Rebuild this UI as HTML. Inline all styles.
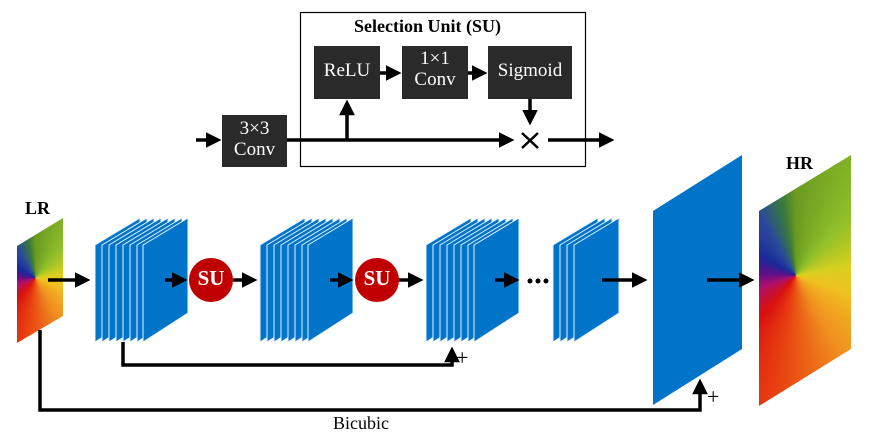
<!DOCTYPE html>
<html><head><style>
body{margin:0;width:896px;height:434px;background:#fff;position:relative;overflow:hidden;font-family:"Liberation Serif",serif}
.img{position:absolute;background:conic-gradient(from 0deg at 40% 48%,#6a9a20 0deg,#8fbf2a 40deg,#d8d020 80deg,#f0c020 110deg,#f09020 150deg,#e84010 190deg,#d81010 220deg,#b0106a 250deg,#5a108a 275deg,#1a2a9a 300deg,#2a4a9a 330deg,#3a7a3a 350deg,#6a9a20 360deg)}
.t{position:absolute;font-size:18px;white-space:nowrap}
.w{color:#fff;font-size:19px}
</style></head><body>
<div class="img" style="left:17px;top:218px;width:46px;height:125px;clip-path:polygon(0 22.4%,100% 0,100% 78.4%,0 100%)"></div>
<div class="img" style="left:759px;top:155px;width:92px;height:251px;clip-path:polygon(0 22.3%,100% 0,100% 77.3%,0 100%)"></div>
<svg width="896" height="434" style="position:absolute;left:0;top:0" xmlns="http://www.w3.org/2000/svg">
<defs><marker id="a" markerWidth="4.5" markerHeight="4.5" refX="3.5" refY="2.25" orient="auto" markerUnits="strokeWidth"><path d="M0,0 L4.5,2.25 L0,4.5 z" fill="#000"/></marker></defs>
<g fill="#0074c8" stroke="#e8f2fb" stroke-width="1">
<polygon points="95,245 140,218 140,313 95,342"/><polygon points="102,245 147,218 147,313 102,342"/><polygon points="109,245 154,218 154,313 109,342"/><polygon points="116,245 161,218 161,313 116,342"/><polygon points="123,245 168,218 168,313 123,342"/><polygon points="130,245 175,218 175,313 130,342"/><polygon points="137,245 182,218 182,313 137,342"/><polygon points="143,245 188,218 188,313 143,342"/>
<polygon points="260,245 305,218 305,313 260,342"/><polygon points="267,245 312,218 312,313 267,342"/><polygon points="274,245 319,218 319,313 274,342"/><polygon points="281,245 326,218 326,313 281,342"/><polygon points="288,245 333,218 333,313 288,342"/><polygon points="295,245 340,218 340,313 295,342"/><polygon points="302,245 347,218 347,313 302,342"/><polygon points="308,245 353,218 353,313 308,342"/>
<polygon points="426,245 471,218 471,313 426,342"/><polygon points="433,245 478,218 478,313 433,342"/><polygon points="440,245 485,218 485,313 440,342"/><polygon points="447,245 492,218 492,313 447,342"/><polygon points="454,245 499,218 499,313 454,342"/><polygon points="461,245 506,218 506,313 461,342"/><polygon points="468,245 513,218 513,313 468,342"/><polygon points="474,245 519,218 519,313 474,342"/>
<polygon points="553,245 598,218 598,313 553,342"/><polygon points="560,245 605,218 605,313 560,342"/><polygon points="567,245 612,218 612,313 567,342"/><polygon points="574,245 619,218 619,313 574,342"/>
</g>
<polygon points="653,211 742,155 742,349 653,405" fill="#0074c8"/>
<g stroke="#000" stroke-width="3.5" fill="none">
<line x1="48" y1="280" x2="87" y2="280" marker-end="url(#a)"/>
<line x1="165" y1="280" x2="184" y2="280" marker-end="url(#a)"/>
<line x1="233" y1="280" x2="254" y2="280" marker-end="url(#a)"/>
<line x1="330" y1="280" x2="350" y2="280" marker-end="url(#a)"/>
<line x1="398" y1="280" x2="420" y2="280" marker-end="url(#a)"/>
<line x1="495" y1="280" x2="516" y2="280" marker-end="url(#a)"/>
<line x1="602" y1="280" x2="644" y2="280" marker-end="url(#a)"/>
<line x1="707" y1="280" x2="751" y2="280" marker-end="url(#a)"/>
<polyline points="123,342 123,365 452,365 452,350" marker-end="url(#a)"/>
<polyline points="40,330 40,410 700,410 700,382" marker-end="url(#a)"/>
<line x1="196" y1="140" x2="218" y2="140" marker-end="url(#a)"/>
<line x1="287" y1="140" x2="511" y2="140" marker-end="url(#a)"/>
<line x1="548" y1="140" x2="611" y2="140" marker-end="url(#a)"/>
<line x1="347" y1="140" x2="347" y2="103" marker-end="url(#a)"/>
<line x1="530" y1="99" x2="530" y2="122" marker-end="url(#a)"/>
<line x1="380" y1="73" x2="398" y2="73" marker-end="url(#a)"/>
<line x1="468" y1="73" x2="484" y2="73" marker-end="url(#a)"/>
</g>
<g fill="#000"><circle cx="530" cy="281" r="2.5"/><circle cx="538" cy="281" r="2.5"/><circle cx="546" cy="281" r="2.5"/></g>
<rect x="300.5" y="12.5" width="285" height="154" fill="none" stroke="#000" stroke-width="1.2"/>
<g fill="#2a2a2a"><rect x="314" y="46" width="66" height="53"/><rect x="402" y="46" width="66" height="53"/><rect x="488" y="46" width="84" height="53"/><rect x="222" y="115" width="65" height="52"/></g>
<g stroke="#000" stroke-width="2.5"><line x1="522" y1="133" x2="538" y2="148"/><line x1="538" y1="133" x2="522" y2="148"/></g>
<g fill="#c00000"><circle cx="211" cy="280" r="22"/><circle cx="377" cy="280" r="22"/></g>
</svg>
<div class="t" style="left:354px;top:16px;font-weight:bold;">Selection Unit (SU)</div>
<div class="t w" style="left:314px;top:60px;width:66px;text-align:center">ReLU</div>
<div class="t w" style="left:402px;top:48px;width:66px;text-align:center;line-height:21px">1×1<br>Conv</div>
<div class="t w" style="left:488px;top:60px;width:84px;text-align:center">Sigmoid</div>
<div class="t w" style="left:222px;top:118px;width:65px;text-align:center;line-height:21px">3×3<br>Conv</div>
<div class="t" style="left:189px;top:266px;width:44px;text-align:center;color:#fff;font-weight:bold;font-size:21px">SU</div>
<div class="t" style="left:355px;top:266px;width:44px;text-align:center;color:#fff;font-weight:bold;font-size:21px">SU</div>
<div class="t" style="left:25px;top:198px;font-weight:bold">LR</div>
<div class="t" style="left:786px;top:153px;font-weight:bold">HR</div>
<div class="t" style="left:456px;top:345px;font-size:22px">+</div>
<div class="t" style="left:707px;top:384px;font-size:22px">+</div>
<div class="t" style="left:333px;top:413px">Bicubic</div>
</body></html>
